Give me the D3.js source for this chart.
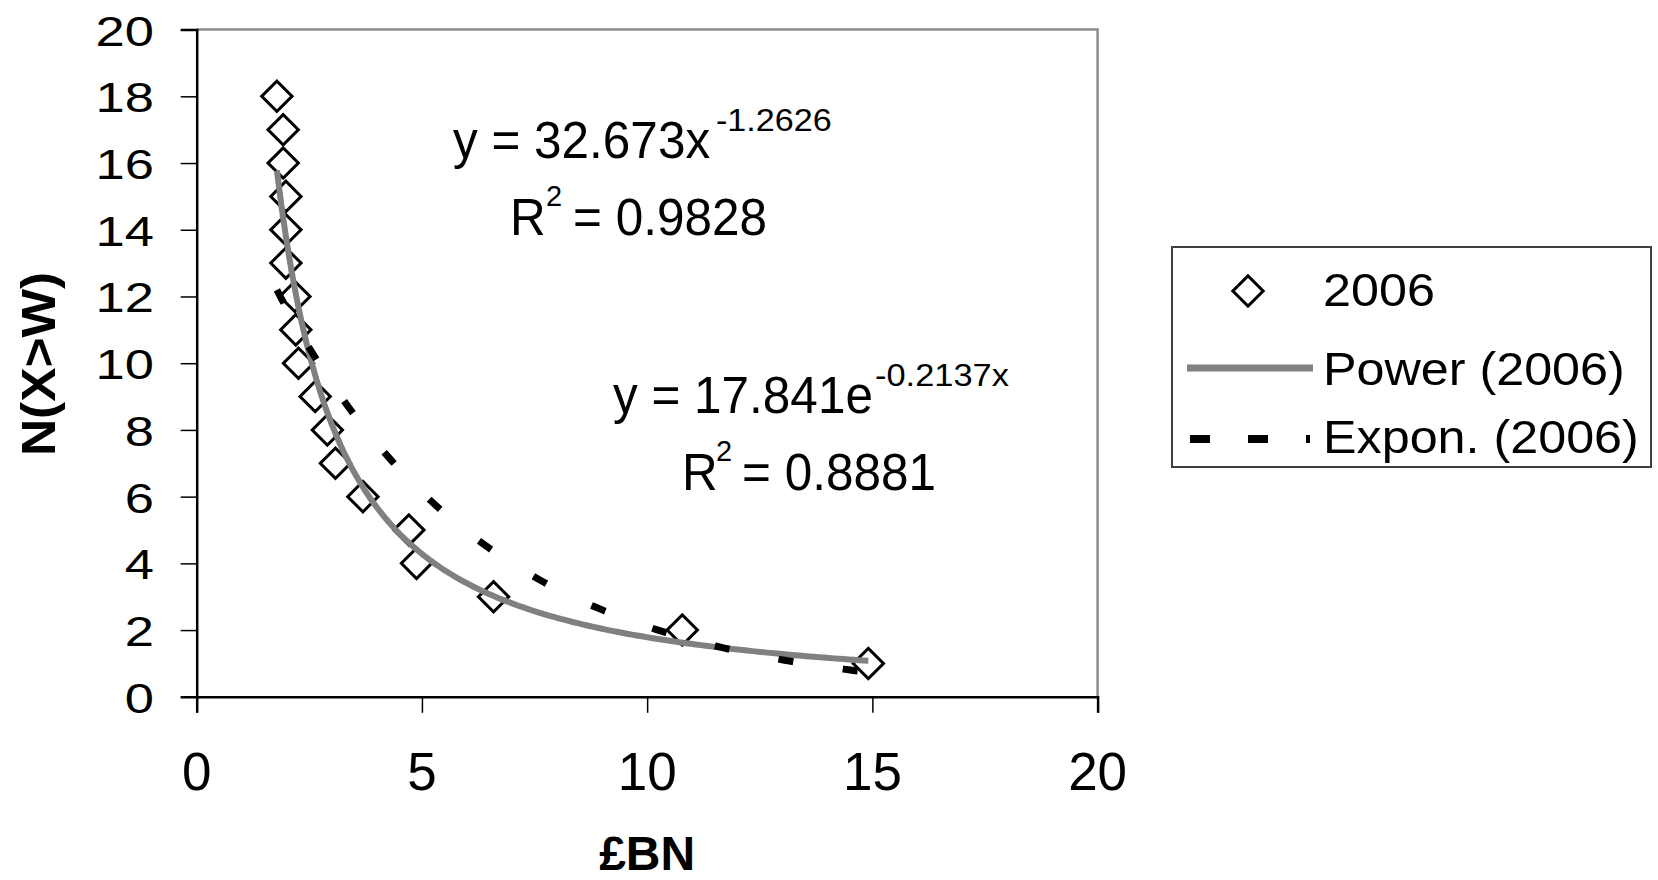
<!DOCTYPE html>
<html>
<head>
<meta charset="utf-8">
<script src="https://cdn.jsdelivr.net/npm/d3@7"></script>
<style>
  html, body { margin: 0; padding: 0; background: #fff; }
  svg { display: block; font-family: "Liberation Sans", Arial, sans-serif; }
</style>
</head>
<body>
<svg id="chart" width="1658" height="880"></svg>
<script>
// values: £BN (x) against N(X>W) (y)
const sizeBN = [1.78, 1.92, 1.92, 1.98, 1.98, 1.98, 2.18, 2.2, 2.26, 2.63, 2.9, 3.08, 3.69, 4.71, 4.88, 6.59, 10.78, 14.91]
const countN = [18, 17, 16, 15, 14, 13, 12, 11, 10, 9, 8, 7, 6, 5, 4, 3, 2, 1]

// trendline coefficients as printed on the chart
const powerCoef = { a: 32.673, b: -1.2626 }
const expCoef = { a: 17.841, b: -0.2137 }

const xTicks = [0, 5, 10, 15, 20]
const yTicks = [0, 2, 4, 6, 8, 10, 12, 14, 16, 18, 20]
const legendLabels = ["2006", "Power (2006)", "Expon. (2006)"]

let svg = d3.select("#chart")

let plotLeft = 196.7, plotRight = 1097.6, plotTop = 29.6, plotBottom = 696.8

let x = d3.scaleLinear().domain([0, 20]).range([plotLeft, plotRight])
let y = d3.scaleLinear().domain([0, 20]).range([plotBottom, plotTop])

// the source text is not quite Arial proportions, so scale it horizontally
function stretchText(g, tx, ty, str, size, sx, opts) {
    opts = opts || {}
    let t = g.append("g")
        .attr("transform", "translate(" + tx + "," + ty + ") scale(" + sx + ",1)")
        .append("text")
        .attr("x", 0)
        .attr("y", 0)
        .attr("font-size", size)
        .attr("fill", "#000")
        .attr("text-anchor", opts.anchor || "start")
        .text(str)
    if (opts.bold) t.attr("font-weight", "bold")
    return t
}

// plot frame (grey top and right)
svg.append("path")
    .attr("d", "M" + plotLeft + "," + plotTop + "H" + plotRight + "V" + plotBottom)
    .attr("fill", "none")
    .attr("stroke", "#8c8c8c")
    .attr("stroke-width", 2.5)

// axes
let xAxis = d3.axisBottom(x).tickValues(xTicks).tickSize(16).tickFormat("")
let yAxis = d3.axisLeft(y).tickValues(yTicks).tickSize(16).tickFormat("")

let gx = svg.append("g").attr("transform", "translate(0," + plotBottom + ")").call(xAxis)
let gy = svg.append("g").attr("transform", "translate(" + plotLeft + ",0)").call(yAxis)
gx.select(".domain").attr("stroke", "#000").attr("stroke-width", 2.5)
gy.select(".domain").attr("stroke", "#000").attr("stroke-width", 2.5)
svg.selectAll(".tick line").attr("stroke", "#000").attr("stroke-width", 1.5)

let labels = svg.append("g")
xTicks.forEach((v) => {
    stretchText(labels, x(v), 790, String(v), 53, 1, { anchor: "middle" })
})
yTicks.forEach((v) => {
    stretchText(labels, 154, y(v) + 16, String(v), 42, 1.25, { anchor: "end" })
})

// axis titles
svg.append("text")
    .attr("transform", "translate(55,364) rotate(-90) scale(1.07,1)")
    .attr("text-anchor", "middle")
    .attr("font-size", 48)
    .attr("font-weight", "bold")
    .text("N(X>W)")

svg.append("text")
    .attr("x", (plotLeft + plotRight) / 2)
    .attr("y", 870)
    .attr("text-anchor", "middle")
    .attr("font-size", 48)
    .attr("font-weight", "bold")
    .text("£BN")

// data markers (hollow diamonds)
let diamond = d3.symbol(d3.symbolSquare, 460)
svg.append("g")
    .selectAll("path")
    .data(sizeBN.map((v, i) => [v, countN[i]]))
    .enter()
    .append("path")
    .attr("d", diamond)
    .attr("transform", (d) => "translate(" + x(d[0]) + "," + y(d[1]) + ") rotate(45)")
    .attr("fill", "none")
    .attr("stroke", "#000")
    .attr("stroke-width", 3)

// trendlines over the data range
let xMin = d3.min(sizeBN), xMax = d3.max(sizeBN)
let steps = d3.range(0, 121).map((i) => xMin + (xMax - xMin) * i / 120)
let line = d3.line().x((d) => x(d[0])).y((d) => y(d[1]))

svg.append("path")
    .attr("d", line(steps.map((v) => [v, powerCoef.a * Math.pow(v, powerCoef.b)])))
    .attr("fill", "none")
    .attr("stroke", "#808080")
    .attr("stroke-width", 6)

svg.append("path")
    .attr("d", line(steps.map((v) => [v, expCoef.a * Math.exp(expCoef.b * v)])))
    .attr("fill", "none")
    .attr("stroke", "#000")
    .attr("stroke-width", 7)
    .attr("stroke-dasharray", "15,50")

// trendline equations
let eq = svg.append("g")
stretchText(eq, 453, 158, "y = 32.673x", 51, 0.97)
stretchText(eq, 716, 131, "-1.2626", 31, 1.1)
stretchText(eq, 510, 235, "R", 51, 0.97)
stretchText(eq, 546, 206, "2", 29, 1.0)
stretchText(eq, 573, 235, "= 0.9828", 51, 0.97)

stretchText(eq, 613, 413, "y = 17.841e", 51, 0.97)
stretchText(eq, 875, 386, "-0.2137x", 31, 1.11)
stretchText(eq, 682, 490, "R", 51, 0.97)
stretchText(eq, 716, 461, "2", 29, 1.0)
stretchText(eq, 742, 490, "= 0.8881", 51, 0.97)

// legend
let legend = svg.append("g")
legend.append("rect")
    .attr("x", 1172)
    .attr("y", 247)
    .attr("width", 479)
    .attr("height", 220)
    .attr("fill", "#fff")
    .attr("stroke", "#404040")
    .attr("stroke-width", 2)

legend.append("path")
    .attr("d", diamond)
    .attr("transform", "translate(1248,291) rotate(45)")
    .attr("fill", "none")
    .attr("stroke", "#000")
    .attr("stroke-width", 3)

legend.append("line")
    .attr("x1", 1187).attr("x2", 1313)
    .attr("y1", 368).attr("y2", 368)
    .attr("stroke", "#808080")
    .attr("stroke-width", 7)

legend.append("line")
    .attr("x1", 1190).attr("x2", 1310)
    .attr("y1", 439).attr("y2", 439)
    .attr("stroke", "#000")
    .attr("stroke-width", 8)
    .attr("stroke-dasharray", "20,38")

let legendBase = [306, 385, 453]
legendLabels.forEach((s, i) => {
    stretchText(legend, 1323, legendBase[i], s, 47, 1.07)
})
</script>
</body>
</html>
